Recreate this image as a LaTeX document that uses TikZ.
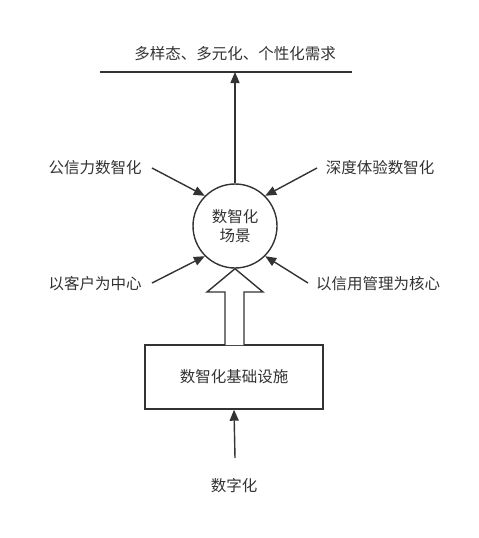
\documentclass[tikz,border=0pt]{standalone}
\usepackage{fontspec}
\newfontfamily\cjk{Noto Sans CJK SC}
\usetikzlibrary{arrows.meta}
\definecolor{ink}{HTML}{333333}
\begin{document}
\begin{tikzpicture}[x=1pt,y=-1pt,
  lbl/.style={font=\cjk\fontsize{15.5}{18}\selectfont, text=ink, inner sep=0pt},
  conn/.style={draw=ink, line width=1.4pt, -{Triangle[length=11pt,width=9pt]}},
  plain/.style={draw=ink, line width=1.4pt}]
\useasboundingbox (0,0) rectangle (479,538);
\fill[white] (0,0) rectangle (479,538);
% top
\node[lbl] (need) at (235,54) {多样态、多元化、个性化需求};
\coordinate (lineL) at (100,72);
\coordinate (lineR) at (352,72);
\coordinate (lineM) at (235,72);
\draw[plain] (lineL) -- (lineR);
% circle
\node[plain, circle, minimum size=84pt, inner sep=0pt, align=center, font=\cjk\fontsize{15.5}{19.5}\selectfont, text=ink] (scene) at (235,226) {数智化\\场景};
\draw[conn] (scene.north) -- (lineM);
% side labels
\node[lbl] (l1) at (95,168) {公信力数智化};
\node[lbl] (l2) at (380,168) {深度体验数智化};
\node[lbl] (l3) at (95,284) {以客户为中心};
\node[lbl] (l4) at (378,284) {以信用管理为核心};
\coordinate (s1) at (152,168);
\coordinate (s2) at (317,168);
\coordinate (s3) at (152,283);
\coordinate (s4) at (308,283);
\draw[conn] (s1) -- (scene.135);
\draw[conn] (s2) -- (scene.45);
\draw[conn] (s3) -- (scene.-135);
\draw[conn] (s4) -- (scene.-45);
% box
\node[plain, rectangle, minimum width=178pt, minimum height=64pt, lbl, draw=ink] (infra) at (234,377) {数智化基础设施};
% hollow arrow
\coordinate (h1) at (225,345);
\coordinate (h2) at (225,292);
\coordinate (h3) at (207,292);
\coordinate (h5) at (263,292);
\coordinate (h6) at (244,292);
\coordinate (h7) at (244,345);
\draw[plain, fill=white, line join=miter] (h1) -- (h2) -- (h3) -- (scene.south) -- (h5) -- (h6) -- (h7);
% bottom
\node[lbl] (digi) at (234,486) {数字化};
\coordinate (b1) at (235,458);
\draw[conn] (b1) -- (infra.south);
\end{tikzpicture}
\end{document}
